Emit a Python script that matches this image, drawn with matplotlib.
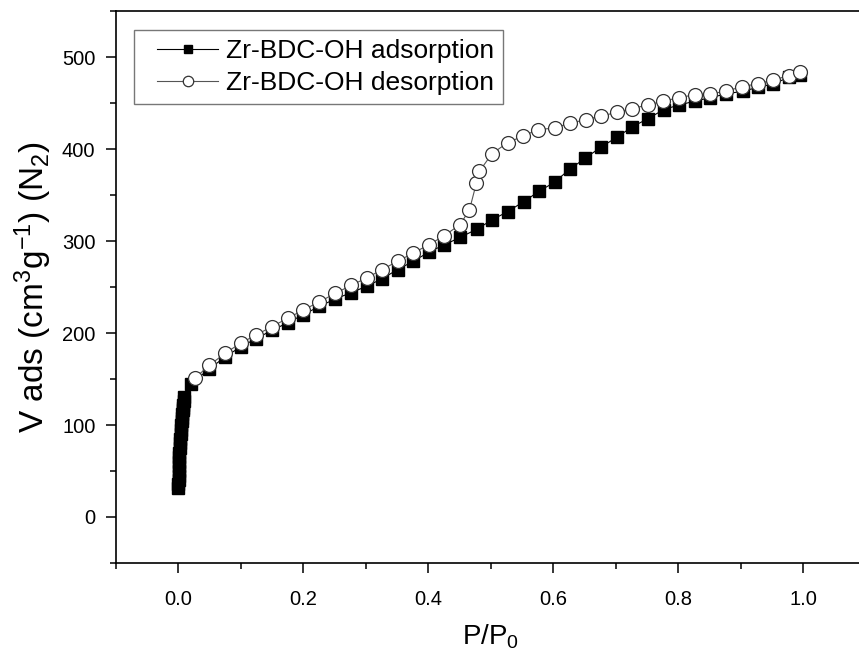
import matplotlib.pyplot as plt
from matplotlib.ticker import MultipleLocator, FormatStrFormatter
from matplotlib.legend_handler import HandlerLine2D

plt.rcParams['font.family'] = ['Liberation Sans', 'DejaVu Sans']
plt.rcParams['mathtext.default'] = 'regular'

# adsorption branch (filled squares)
ads_p = [0.0002, 0.0004, 0.0006, 0.0008, 0.001, 0.0012, 0.0015, 0.0018, 0.0021,
         0.0025, 0.003, 0.0035, 0.004, 0.0045, 0.005, 0.0055, 0.006, 0.0065,
         0.007, 0.0075, 0.008, 0.009, 0.01,
         0.02, 0.05, 0.075, 0.1, 0.125, 0.15, 0.175, 0.2, 0.226, 0.251,
         0.277, 0.302, 0.326, 0.351, 0.376, 0.401, 0.426, 0.451, 0.478, 0.502,
         0.527, 0.553, 0.577, 0.602, 0.626, 0.651, 0.676, 0.702, 0.726, 0.751,
         0.777, 0.801, 0.826, 0.851, 0.877, 0.903, 0.927, 0.952, 0.977, 0.995]
ads_v = [32, 36, 40, 45, 50, 55, 60, 65, 70,
         75, 80, 85, 90, 95, 100, 104, 108, 112,
         116, 119, 122, 126, 130,
         145, 161, 174, 185, 194, 203, 211, 220, 229, 237,
         244, 251, 259, 269, 278, 288, 296, 304, 313, 323,
         332, 343, 354, 364, 378, 390, 402, 413, 424, 433,
         443, 448, 452, 456, 460, 463, 467, 471, 478, 481]

# desorption branch (open circles)
des_p = [0.027, 0.05, 0.075, 0.1, 0.125, 0.15, 0.175, 0.2, 0.226, 0.251,
         0.277, 0.302, 0.326, 0.351, 0.376, 0.401, 0.426, 0.451, 0.466, 0.477,
         0.482, 0.502, 0.527, 0.551, 0.575, 0.602, 0.626, 0.652, 0.677, 0.702,
         0.726, 0.751, 0.776, 0.801, 0.826, 0.851, 0.877, 0.902, 0.927, 0.952,
         0.977, 0.995]
des_v = [151, 165, 178, 189, 198, 207, 216, 225, 234, 243,
         252, 260, 269, 278, 287, 296, 306, 318, 334, 363,
         376, 395, 407, 414, 421, 423, 428, 432, 436, 440,
         444, 448, 452, 456, 459, 460, 463, 468, 471, 475,
         480, 484]

fig = plt.figure(figsize=(8.59, 6.55), dpi=100)
ax = fig.add_axes([0.1346, 0.1405, 0.8734, 0.8425])

ads_line, = ax.plot(ads_p, ads_v, color='black', lw=0.8, marker='s', ms=8.5,
                    mfc='black', mec='black', label='Zr-BDC-OH adsorption', zorder=2)
des_line, = ax.plot(des_p, des_v, color='#555555', lw=0.8, marker='o', ms=10,
                    mfc='white', mec='#333333', mew=0.9,
                    label='Zr-BDC-OH desorption', zorder=3)

ax.set_xlim(-0.1, 1.1)
ax.set_ylim(-50, 550)
ax.xaxis.set_major_locator(MultipleLocator(0.2))
ax.xaxis.set_minor_locator(MultipleLocator(0.1))
ax.yaxis.set_major_locator(MultipleLocator(100))
ax.yaxis.set_minor_locator(MultipleLocator(50))
ax.xaxis.set_major_formatter(FormatStrFormatter('%.1f'))
ax.tick_params(which='major', direction='out', length=7.5, width=1.1, labelsize=14.5)
ax.tick_params(which='minor', direction='out', length=4, width=1.1)
ax.tick_params(axis='x', pad=12)
ax.tick_params(axis='y', pad=7)
for s in ax.spines.values():
    s.set_linewidth(1.2)

ax.set_xlabel('P/P$_0$', fontsize=20, labelpad=10)
ax.set_ylabel('V ads (cm$^3$g$^{-1}$) (N$_2$)', fontsize=24, labelpad=6)

pad = HandlerLine2D(xpad=0.55)
leg = ax.legend(loc='upper left', bbox_to_anchor=(0.024, 0.966), fontsize=19,
                frameon=True, fancybox=False, borderpad=0.35, handlelength=2.85,
                handletextpad=0.3, labelspacing=0.3, borderaxespad=0,
                markerscale=0.75, handler_map={ads_line: pad, des_line: pad})
leg.get_frame().set_edgecolor('#555555')
leg.get_frame().set_linewidth(1.0)

fig.savefig('out.png', dpi=100)
